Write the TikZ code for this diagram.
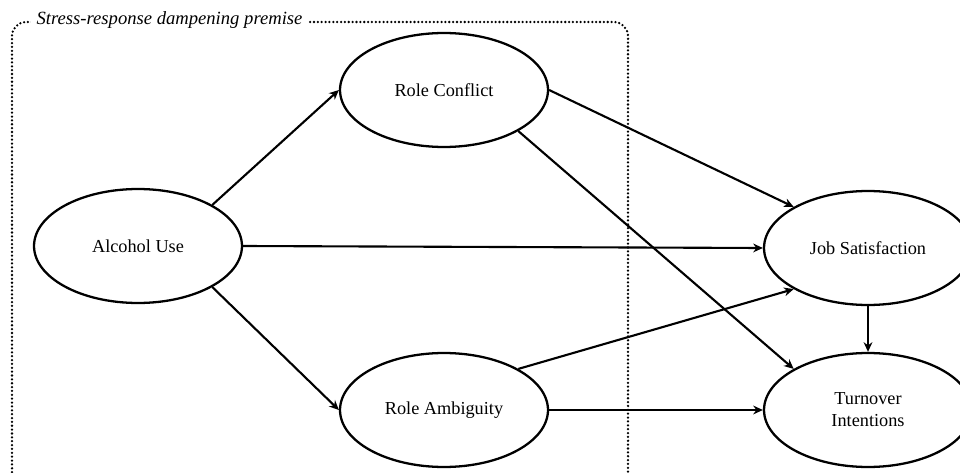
\documentclass[tikz,border=0pt]{standalone}
\usepackage{fontspec}
\setmainfont{Liberation Serif}
\usetikzlibrary{shapes.geometric, arrows.meta, positioning}
\tikzset{
  construct/.style={
    ellipse, draw=black, line width=1.3pt, fill=white,
    minimum width=4.16cm, minimum height=2.28cm, inner sep=0pt,
    align=center, font=\fontsize{10.4}{12.5}\selectfont
  },
  path/.style={-{Stealth[length=5.5pt, width=5pt]}, line width=1.2pt},
  premise/.style={
    draw=black, line width=1.45pt, line cap=round,
    dash pattern=on 0pt off 2.2pt, rounded corners=8pt
  }
}
\begin{document}
\begin{tikzpicture}[x=0.02cm, y=-0.02cm]
  \useasboundingbox (0,0) rectangle (960,473);
  % dotted frame of the premise
  \draw[premise] (12,476) -- (12,22) -- (628,22) -- (628,476);
  \node[fill=white, inner xsep=3pt, anchor=west,
        font=\fontsize{10.6}{12.5}\selectfont\itshape] (title)
    at (31,20) {Stress-response dampening premise};
  % constructs
  \node[construct] (au) at (138,246) {Alcohol Use};
  \node[construct] (rc) at (444,90)  {Role Conflict};
  \node[construct] (ra) at (444,410) {Role Ambiguity};
  \node[construct] (js) at (868,248) {Job Satisfaction};
  \node[construct] (ti) at (868,410) {Turnover\\Intentions};
  % paths
  \draw[path] (au.north east) -- (rc.west);
  \draw[path] (au.south east) -- (ra.west);
  \draw[path] (au.east) -- (js.west);
  \draw[path] (rc.east) -- (js.north west);
  \draw[path] (rc.south east) -- (ti.north west);
  \draw[path] (ra.north east) -- (js.south west);
  \draw[path] (ra.east) -- (ti.west);
  \draw[path] (js.south) -- (ti.north);
\end{tikzpicture}
\end{document}
